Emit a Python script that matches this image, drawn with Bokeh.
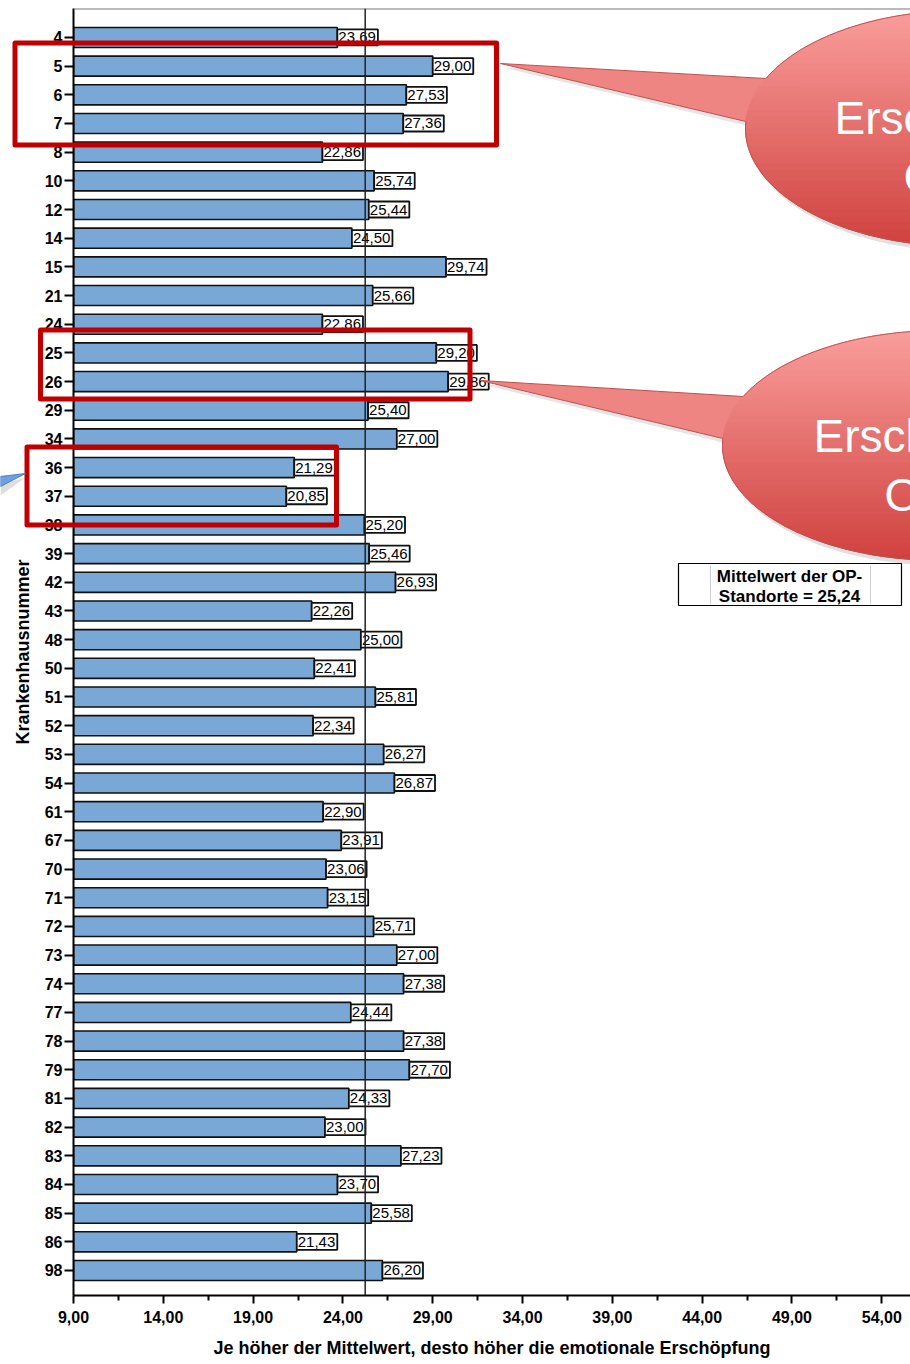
import numpy as np
from bokeh.plotting import figure
from bokeh.models import Range1d, FixedTicker, Span
from bokeh.core.properties import value
from bokeh.embed import file_html
from bokeh.resources import INLINE

# ---------------- data ----------------
hospitals = ["4", "5", "6", "7", "8", "10", "12", "14", "15", "21", "24", "25", "26", "29",
             "34", "36", "37", "38", "39", "42", "43", "48", "50", "51", "52", "53", "54",
             "61", "67", "70", "71", "72", "73", "74", "77", "78", "79", "81", "82", "83",
             "84", "85", "86", "98"]
means = [23.69, 29.00, 27.53, 27.36, 22.86, 25.74, 25.44, 24.50, 29.74, 25.66, 22.86,
         29.20, 29.86, 25.40, 27.00, 21.29, 20.85, 25.20, 25.46, 26.93, 22.26, 25.00,
         22.41, 25.81, 22.34, 26.27, 26.87, 22.90, 23.91, 23.06, 23.15, 25.71, 27.00,
         27.38, 24.44, 27.38, 27.70, 24.33, 23.00, 27.23, 23.70, 25.58, 21.43, 26.20]
overall_mean = 25.24
x_ticks = [9, 14, 19, 24, 29, 34, 39, 44, 49, 54]
x_tick_labels = ["9,00", "14,00", "19,00", "24,00", "29,00", "34,00", "39,00",
                 "44,00", "49,00", "54,00"]
x_minor_ticks = [11.5, 16.5, 21.5, 26.5, 31.5, 36.5, 41.5, 46.5, 51.5]
x_title = "Je höher der Mittelwert, desto höher die emotionale Erschöpfung"
y_title = "Krankenhausnummer"
mean_note = "Mittelwert der OP-\nStandorte = "

def de(v):
    return f"{v:.2f}".replace(".", ",")

# ---------------- layout ----------------
W, H = 910, 1364
L, T, B = 73, 8, 69
FW, FH = W - L, H - T - B
X0, X1 = 9.0, 55.6
n = len(hospitals)
Y_TOP, Y_BOT = -1.01, n - 1 + 0.872

def dx(px):
    return X0 + (px - L) * (X1 - X0) / FW

def dy(py):
    return Y_TOP + (py - T) * (Y_BOT - Y_TOP) / FH

FONT = "Liberation Sans"

p = figure(width=W, height=H, x_range=Range1d(X0, X1), y_range=Range1d(Y_BOT, Y_TOP),
           output_backend="svg", toolbar_location=None,
           min_border_left=L, min_border_right=0, min_border_top=T, min_border_bottom=B)
p.outline_line_color = None
p.xgrid.visible = False
p.ygrid.visible = False
p.background_fill_color = "white"
p.border_fill_color = "white"

idx = list(range(n))
p.hbar(y=idx, left=X0, right=means, height=0.7, fill_color="#79a8d6",
       line_color="#111111", line_width=1.6)
p.text(x=means, y=idx, text=[de(v) for v in means], text_align="left",
       text_baseline="middle", text_font=value(FONT), text_font_size="15px",
       text_color="black", background_fill_color="white", border_line_color="#111111",
       border_line_width=1.8, padding=dict(left=1, right=2, top=3, bottom=3))

# axes
ya = p.yaxis[0]
ya.ticker = FixedTicker(ticks=idx)
ya.major_label_overrides = {i: h for i, h in enumerate(hospitals)}
ya.major_label_text_font = FONT
ya.major_label_text_font_style = "bold"
ya.major_label_text_font_size = "16px"
ya.major_label_text_color = "black"
ya.major_tick_out = 9
ya.major_tick_in = 0
ya.minor_tick_line_color = None
ya.axis_line_width = 2
ya.major_tick_line_width = 2
ya.major_label_standoff = 2
ya.axis_label = y_title
ya.axis_label_text_font = FONT
ya.axis_label_text_font_style = "bold"
ya.axis_label_text_font_size = "18px"
ya.axis_label_text_color = "black"
ya.axis_label_standoff = 9

xa = p.xaxis[0]
xa.ticker = FixedTicker(ticks=x_ticks, minor_ticks=x_minor_ticks)
xa.major_label_overrides = {t: s for t, s in zip(x_ticks, x_tick_labels)}
xa.major_label_text_font = FONT
xa.major_label_text_font_style = "bold"
xa.major_label_text_font_size = "16px"
xa.major_label_text_color = "black"
xa.major_tick_out = 8
xa.major_tick_in = 0
xa.minor_tick_out = 5
xa.minor_tick_in = 0
xa.axis_line_width = 2
xa.major_tick_line_width = 2
xa.minor_tick_line_width = 2
xa.major_label_standoff = 7
xa.axis_label = x_title
xa.axis_label_text_font = FONT
xa.axis_label_text_font_style = "bold"
xa.axis_label_text_font_size = "18px"
xa.axis_label_text_color = "black"
xa.axis_label_standoff = 12

# top border and mean line
p.add_layout(Span(location=Y_TOP, dimension="width", line_color="#777777", line_width=2))
p.add_layout(Span(location=overall_mean, dimension="height", line_color="#222222",
                  line_width=1.5))

# mean annotation box
p.quad(left=[dx(678)], right=[dx(901)], top=[dy(563)], bottom=[dy(605)],
       fill_color="white", line_color="black", line_width=1.2)
p.segment(x0=[dx(710), dx(870)], y0=[dy(565), dy(565)], x1=[dx(710), dx(870)],
          y1=[dy(604), dy(604)], line_color="#d0d0d0", line_width=1)
p.text(x=[dx(789)], y=[dy(586)], text=[mean_note + de(overall_mean)],
       text_align="center", text_baseline="middle", text_font=value(FONT),
       text_font_size="17px", text_font_style="bold", text_color="black",
       text_line_height=1.08)

# ---------------- overlay (callouts drawn in page pixels) ----------------
o = figure(width=W, height=H, x_range=Range1d(0, W), y_range=Range1d(H, 0),
           output_backend="svg", toolbar_location=None,
           x_axis_location=None, y_axis_location=None, min_border=0)
o.outline_line_color = None
o.xgrid.visible = False
o.ygrid.visible = False
o.background_fill_color = None
o.background_fill_alpha = 0
o.border_fill_color = None
o.border_fill_alpha = 0
o.styles = {"position": "absolute", "left": "0px", "top": "0px"}

def hex2rgb(h):
    h = h.lstrip("#")
    return np.array([int(h[i:i + 2], 16) for i in (0, 2, 4)], dtype=float)

def rgb2hex(c):
    return "#%02x%02x%02x" % tuple(int(round(v)) for v in c)

C_TOP, C_BOT = hex2rgb("#fa9e9c"), hex2rgb("#cf413e")
EDGE = "#c0504d"

def bubble(cx, cy, rx, ry, tip, y_up, y_low, lines):
    def col_at(py):
        t = np.clip((py - (cy - ry)) / (2 * ry), 0, 1)
        return rgb2hex(C_TOP + (C_BOT - C_TOP) * t)

    def xl(py):
        return cx - rx * np.sqrt(np.clip(1 - ((py - cy) / ry) ** 2, 0, 1))

    th = np.linspace(0, 2 * np.pi, 200)
    o.patch(cx + 3 + rx * np.cos(th), cy + 5 + ry * np.sin(th),
            fill_color="#999999", fill_alpha=0.3, line_color=None)
    ux, lx = xl(y_up), xl(y_low)
    o.patch([tip[0] + 2, ux, cx, lx], [tip[1] + 4, y_up + 4, cy, y_low + 4],
            fill_color="#999999", fill_alpha=0.25, line_color=None)
    o.patch([tip[0], ux, cx, lx], [tip[1], y_up, cy, y_low],
            fill_color=col_at((y_up + y_low) / 2 - 25), line_color=None)
    o.multi_line([[tip[0], ux], [tip[0], lx]], [[tip[1], y_up], [tip[1], y_low]],
                 line_color=EDGE, line_width=1)
    nb = 40
    xs, ys, cs = [], [], []
    for k in range(nb):
        y0 = cy - ry + k * 2 * ry / nb
        y1 = cy - ry + (k + 1) * 2 * ry / nb
        yy = np.linspace(y0, y1, 6)
        left = xl(yy)
        right = 2 * cx - left
        xs.append(list(np.concatenate([left, right[::-1]])))
        ys.append(list(np.concatenate([yy, yy[::-1]])))
        cs.append(col_at((y0 + y1) / 2))
    o.patches(xs, ys, fill_color=cs, line_color=cs, line_width=1)
    a_up = np.arctan2((y_up - cy) / ry, (ux - cx) / rx)
    a_low = np.arctan2((y_low - cy) / ry, (lx - cx) / rx)
    tt = np.linspace(a_up, a_low + 2 * np.pi, 300)
    o.line(cx + rx * np.cos(tt), cy + ry * np.sin(tt), line_color=EDGE, line_width=1)
    for (tx, tb, s) in lines:
        o.text(x=[tx], y=[tb], text=[s], text_align="left", text_baseline="alphabetic",
               text_font=value(FONT), text_font_size="46px", text_color="white")

bubble(962, 128, 217, 118, (500, 63), 78, 121, [(834, 117, "Ersc"), (903, 176, "C")])
bubble(940, 445, 218, 115, (480, 380), 396, 438, [(813, 435, "Ersch"), (884, 494, "O")])

# red highlight frames
o.quad(left=[14.5, 40, 26.5], right=[496, 469.5, 336], top=[42.5, 329.5, 446.5],
       bottom=[144.5, 398.5, 524.5], fill_color=None, line_color="#c00000",
       line_width=5, line_join="round")

# blue callout tip from the left edge
o.patch([0, 25, 0], [484, 477, 495], fill_color="#aaaaaa", fill_alpha=0.4, line_color=None)
o.patch([0, 25, 0], [476, 473, 486], fill_color="#6f9fe0", line_color="#4a7ebf", line_width=1)

open("out.html", "w").write(file_html([p, o], INLINE))
